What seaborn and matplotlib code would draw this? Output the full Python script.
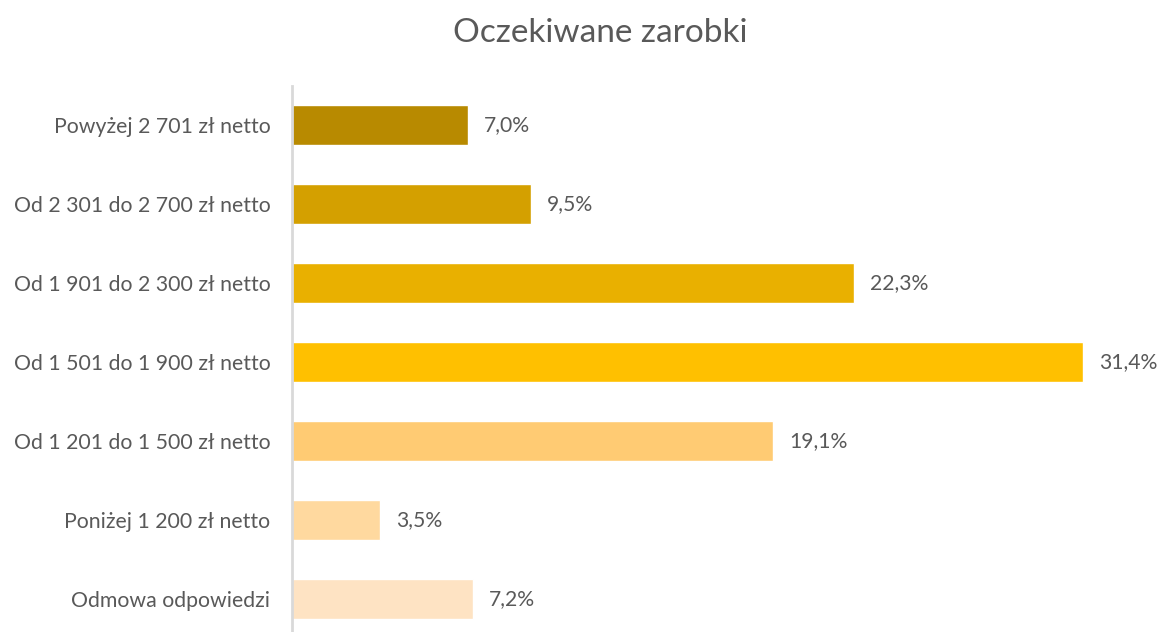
import matplotlib
matplotlib.use("Agg")
import matplotlib.pyplot as plt
import seaborn as sns
import pandas as pd

categories = [
    "Powyżej 2 701 zł netto",
    "Od 2 301 do 2 700 zł netto",
    "Od 1 901 do 2 300 zł netto",
    "Od 1 501 do 1 900 zł netto",
    "Od 1 201 do 1 500 zł netto",
    "Poniżej 1 200 zł netto",
    "Odmowa odpowiedzi",
]
values = [7.0, 9.5, 22.3, 31.4, 19.1, 3.5, 7.2]
colors = ["#B88A00", "#D4A000", "#E9B000", "#FFC000", "#FFCB73", "#FFD99F", "#FEE3C3"]
title = "Oczekiwane zarobki"

sns.set_theme(style="white")
plt.rcParams["font.family"] = ["Lato", "DejaVu Sans"]

text_color = "#595959"
df = pd.DataFrame({"kategoria": categories, "udzial": values})

fig = plt.figure(figsize=(11.6, 6.32), dpi=100)
ax = fig.add_axes([292 / 1160, -6.5 / 632, 856.5 / 1160, 553 / 632])

sns.barplot(
    data=df, x="udzial", y="kategoria", hue="kategoria",
    palette=colors, order=categories, hue_order=categories,
    width=0.506, legend=False, ax=ax, saturation=1,
)

ax.set_xlim(0, 34)
ax.set_ylim(6.5, -0.5)
ax.set_xlabel("")
ax.set_ylabel("")
ax.set_xticks([])
for side in ("top", "right", "bottom"):
    ax.spines[side].set_visible(False)
ax.spines["left"].set_color("#D9D9D9")
ax.spines["left"].set_linewidth(2)
ax.tick_params(axis="y", length=0, pad=15.5, labelsize=15.3, labelcolor=text_color)

for container in ax.containers:
    ax.bar_label(
        container,
        labels=[f"{v:.1f}%".replace(".", ",") for v in container.datavalues],
        padding=11.5, fontsize=15.2, color=text_color,
    )

fig.text(600 / 1160, 1 - 33 / 632, title, ha="center", va="center",
         fontsize=24, color=text_color)

fig.savefig("out.png", dpi=100)
